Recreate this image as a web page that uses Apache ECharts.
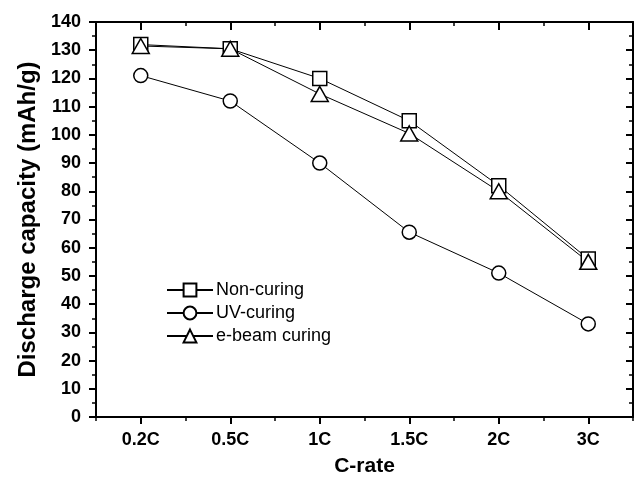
<!DOCTYPE html>
<html>
<head>
<meta charset="utf-8">
<script src="https://cdn.jsdelivr.net/npm/echarts@6/dist/echarts.min.js"></script>
<style>
    html, body { margin: 0; background: #fff; }
    #chart { width: 634px; height: 487px; }
</style>
</head>
<body>
<div id="chart"></div>
<script>
const rates = ['0.2C', '0.5C', '1C', '1.5C', '2C', '3C'];
const nonCuring = [132, 130.5, 120, 105, 82, 56];
const uvCuring = [121, 112, 90, 65.5, 51, 33];
const eBeamCuring = [131.5, 130.5, 114.5, 100.5, 80, 55];

const font = 'Liberation Sans, Arial, sans-serif';
const chart = echarts.init(document.getElementById('chart'));

function makeSeries(name, data, symbol, size) {
    return {
        name: name,
        type: 'line',
        data: data,
        symbol: symbol,
        symbolSize: size,
        xAxisIndex: 0,
        yAxisIndex: 0,
        lineStyle: { color: '#000', width: 1 },
        itemStyle: { color: '#fff', borderColor: '#000', borderWidth: 1.5 },
        emphasis: { disabled: true }
    };
}

// bottom/top axes: major ticks at the categories, minor ticks at the boundaries
function xAxisPart(position, major) {
    return {
        type: 'category',
        data: rates,
        position: position,
        boundaryGap: true,
        axisLine: { show: major, lineStyle: { color: '#000', width: 2 } },
        axisTick: {
            show: true,
            alignWithLabel: major,
            inside: position === 'top',
            length: major ? (position === 'top' ? 8 : 7) : 4,
            lineStyle: { color: '#000', width: major ? 2 : 1.5 }
        },
        axisLabel: {
            show: major && position === 'bottom',
            color: '#000',
            fontFamily: font,
            fontWeight: 'bold',
            fontSize: 18,
            margin: 14
        },
        splitLine: { show: false }
    };
}

const option = {
    backgroundColor: '#fff',
    animation: false,
    grid: { left: 96, right: 1, top: 22, bottom: 70 },
    legend: {
        orient: 'vertical',
        left: 161,
        top: 276,
        itemWidth: 46,
        itemHeight: 16,
        itemGap: 5,
        textStyle: { color: '#000', fontFamily: font, fontSize: 18, padding: [0, 0, 0, -2] },
        data: ['Non-curing', 'UV-curing', 'e-beam curing']
    },
    xAxis: [
        Object.assign(xAxisPart('bottom', true), {
            name: 'C-rate',
            nameLocation: 'middle',
            nameGap: 39,
            nameTextStyle: { color: '#000', fontFamily: font, fontWeight: 'bold', fontSize: 21 }
        }),
        xAxisPart('bottom', false),
        xAxisPart('top', true),
        xAxisPart('top', false)
    ],
    yAxis: [
        {
            type: 'value',
            min: 0,
            max: 140,
            interval: 10,
            position: 'left',
            name: 'Discharge capacity (mAh/g)',
            nameLocation: 'middle',
            nameGap: 52,
            nameTextStyle: { color: '#000', fontFamily: font, fontWeight: 'bold', fontSize: 24 },
            axisLine: { show: true, lineStyle: { color: '#000', width: 2 } },
            axisTick: { show: true, length: 7, lineStyle: { color: '#000', width: 2 } },
            minorTick: { show: true, splitNumber: 2, length: 4, lineStyle: { color: '#000', width: 1.5 } },
            axisLabel: { color: '#000', fontFamily: font, fontWeight: 'bold', fontSize: 18, margin: 15 },
            splitLine: { show: false }
        },
        {
            type: 'value',
            min: 0,
            max: 140,
            interval: 10,
            position: 'right',
            axisLine: { show: true, lineStyle: { color: '#000', width: 2 } },
            axisTick: { show: true, inside: true, length: 7, lineStyle: { color: '#000', width: 2 } },
            minorTick: { show: true, splitNumber: 2, length: 4, lineStyle: { color: '#000', width: 1.5 } },
            axisLabel: { show: false },
            splitLine: { show: false }
        }
    ],
    series: [
        makeSeries('Non-curing', nonCuring, 'rect', 14),
        makeSeries('UV-curing', uvCuring, 'circle', 14),
        makeSeries('e-beam curing', eBeamCuring, 'triangle', [17, 15])
    ]
};

chart.setOption(option);
</script>
</body>
</html>
